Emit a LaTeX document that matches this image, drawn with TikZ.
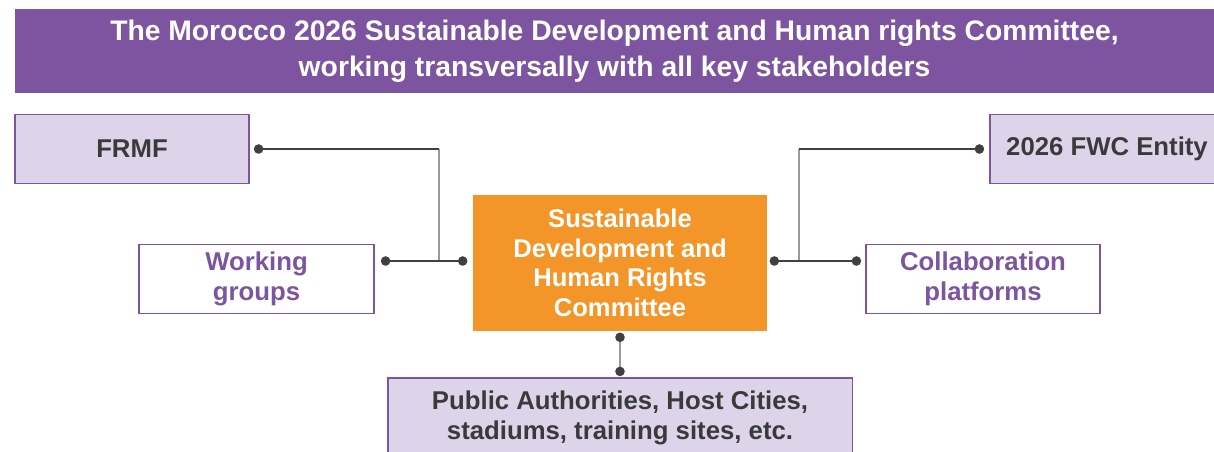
\documentclass[tikz,border=0pt]{standalone}
\usepackage{fontspec}
\setmainfont{Liberation Sans}
\usepackage{tikz}
\usetikzlibrary{calc, positioning}

\definecolor{titlepurple}{HTML}{7D54A0}
\definecolor{lightlav}{HTML}{DDD4EA}
\definecolor{boxorange}{HTML}{F39528}
\definecolor{textgray}{HTML}{3A3A3A}
\definecolor{linedark}{HTML}{404040}
\definecolor{linegray}{HTML}{9A9A9A}

\begin{document}
\begin{tikzpicture}[
    x=0.025cm, y=-0.025cm,
    box/.style={draw=titlepurple, line width=0.8pt, align=center, inner sep=0pt,
                minimum height=1.725cm, font=\bfseries\fontsize{18.3}{21.3}\selectfont},
    fullbox/.style={box, fill=lightlav, text=textgray},
    openbox/.style={box, fill=white, text=titlepurple},
    link/.style={draw=linedark, line width=0.9pt},
    uplink/.style={draw=linegray, line width=1.1pt},
    dot/.style={circle, fill=linedark, inner sep=0pt, minimum size=2.4mm}
]
\useasboundingbox (0,0) rectangle (1214,452);
\clip (0,0) rectangle (1214,452);

% title band
\node[fill=titlepurple, text=white, align=center, inner sep=0pt,
      minimum width=29.975cm, minimum height=2.075cm,
      font=\bfseries\fontsize{20.1}{25.6}\selectfont] (title) at (614.5,51)
  {The Morocco 2026 Sustainable Development and Human rights Committee,\\
   working transversally with all key stakeholders};

% committee in the middle
\node[fill=boxorange, text=white, align=center, inner sep=0pt,
      minimum width=7.35cm, minimum height=3.4cm,
      font=\bfseries\fontsize{18.2}{21}\selectfont] (sdhr) at (620,263)
  {Sustainable\\Development and\\Human Rights\\Committee};

% stakeholders
\node[fullbox, minimum width=5.85cm] (frmf) at (132,149) {FRMF};
\node[openbox, minimum width=5.875cm] (wg) at (256.5,279) {Working\\groups};
\node[fullbox, minimum width=5.85cm] (fwc) at (1107,149) {2026 FWC Entity};
\node[openbox, minimum width=5.85cm] (collab) at (983,279) {Collaboration\\platforms};
\node[fullbox, minimum width=11.6cm, minimum height=2.0cm] (auth) at (620,418)
  {Public Authorities, Host Cities,\\stadiums, training sites, etc.};

% dots next to the boxes
\coordinate (frmfd)  at ($(frmf.east)+(9,0)$);
\coordinate (wgd)    at ($(wg.east)+(11,-18)$);
\coordinate (sdhrl)  at ($(sdhr.west)+(-10,-2)$);
\coordinate (sdhrr)  at ($(sdhr.east)+(7,-2)$);
\coordinate (collabd) at ($(collab.west)+(-9,-18)$);
\coordinate (fwcd)   at ($(fwc.west)+(-10,0)$);
\coordinate (sdhrb)  at ($(sdhr.south)+(0,6)$);
\coordinate (authd)  at ($(auth.north)+(0,-6)$);

% left side
\draw[uplink] (frmfd -| 439,0) -- (wgd -| 439,0);
\draw[link] (frmfd) -- (frmfd -| 439,0);
\draw[link] (wgd) -- (sdhrl);
% right side
\draw[uplink] (fwcd -| 799,0) -- (sdhrr -| 799,0);
\draw[link] (fwcd) -- (fwcd -| 799,0);
\draw[link] (sdhrr) -- (collabd);
% below
\draw[uplink] (sdhrb) -- (authd);

\foreach \d in {frmfd, wgd, sdhrl, sdhrr, collabd, fwcd, sdhrb, authd}
  \node[dot] at (\d) {};
\end{tikzpicture}
\end{document}
